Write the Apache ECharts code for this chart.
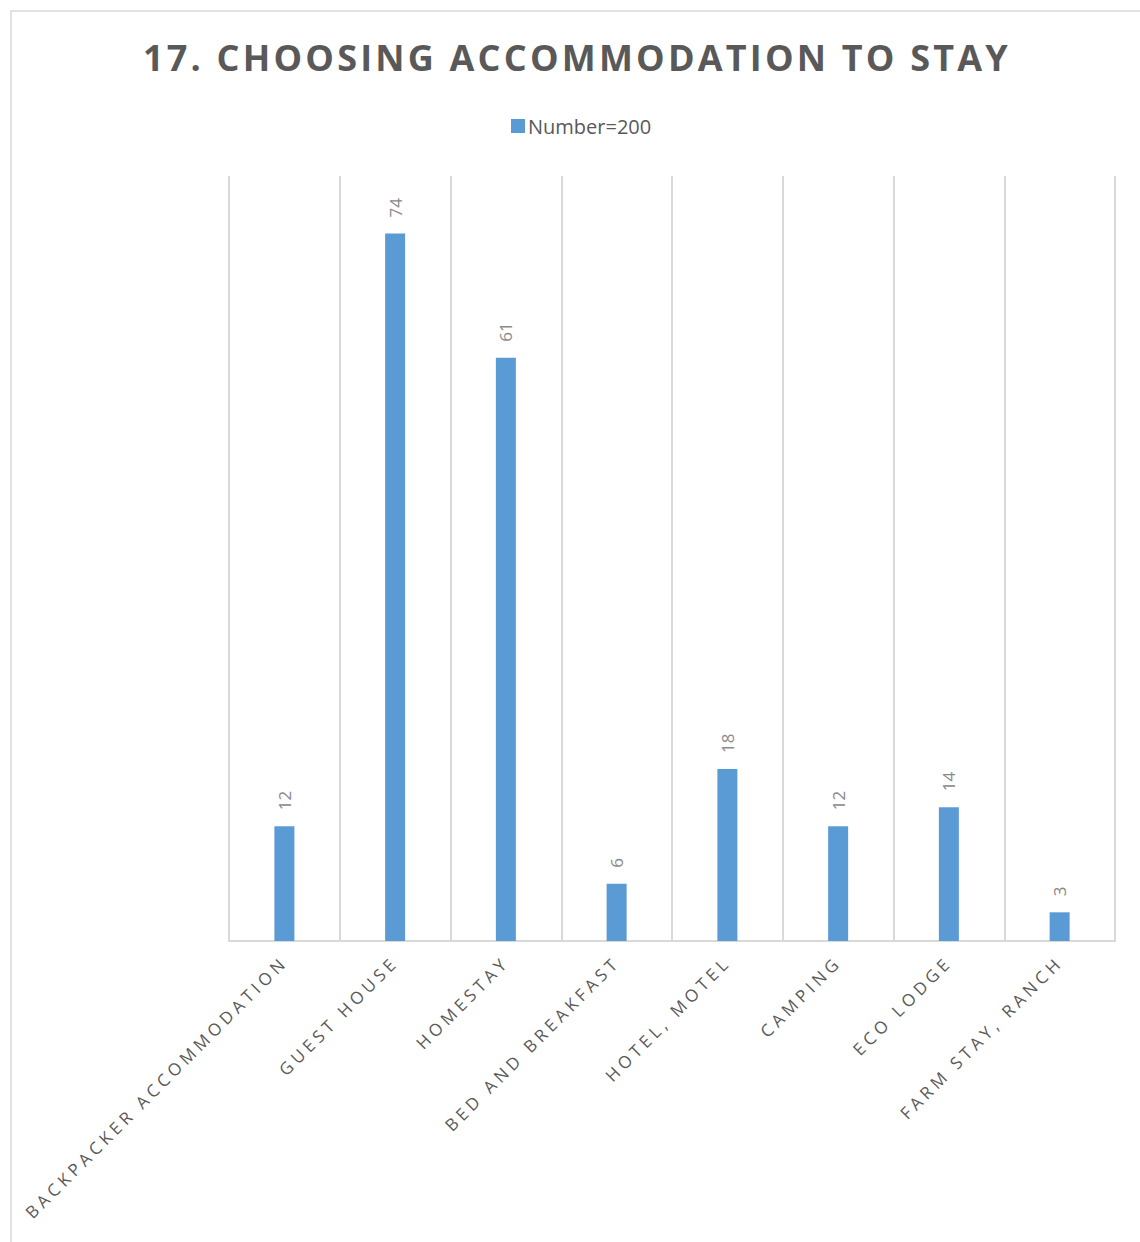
<!DOCTYPE html>
<html>
<head>
<meta charset="utf-8">
<script src="https://cdn.jsdelivr.net/npm/echarts@6/dist/echarts.min.js"></script>
<style>
html,body{margin:0;padding:0;background:#fff;}
#main{width:1140px;height:1242px;}
</style>
</head>
<body>
<div id="main"></div>
<script>
const TITLE = '17. CHOOSING ACCOMMODATION TO STAY';
const SERIES_NAME = 'Number=200';
const categories = ['BACKPACKER ACCOMMODATION','GUEST HOUSE','HOMESTAY','BED AND BREAKFAST','HOTEL, MOTEL','CAMPING','ECO LODGE','FARM STAY, RANCH'];
const values = [12, 74, 61, 6, 18, 12, 14, 3];

const chart = echarts.init(document.getElementById('main'), null, {renderer:'svg'});
const FONT = 'Open Sans';
chart.setOption({
  animation:false,
  backgroundColor:'#ffffff',
  title:{
    text:TITLE,
    left:572,
    textAlign:'center',
    top:34,
    textStyle:{fontFamily:FONT,fontWeight:'bold',fontSize:36,color:'#595959'}
  },
  legend:{
    left:506, top:111,
    itemWidth:14, itemHeight:14, itemGap:6,
    icon:'rect',
    textStyle:{fontFamily:FONT,fontSize:20,color:'#595959',padding:[0,0,0,-2]},
    data:[SERIES_NAME]
  },
  graphic:[{
    type:'rect', silent:true,
    shape:{x:11,y:11,width:1200,height:1300},
    style:{fill:'none',stroke:'#d9d9d9',lineWidth:1.5}
  }],
  grid:{left:229,right:25,top:176,bottom:301},
  xAxis:{
    type:'category',
    data:categories,
    boundaryGap:true,
    axisTick:{show:false},
    axisLine:{lineStyle:{color:'#d9d9d9',width:2}},
    splitLine:{show:true,lineStyle:{color:'#d9d9d9',width:2}},
    axisLabel:{rotate:45,interval:0,margin:18,fontFamily:FONT,fontSize:17,color:'#595959'}
  },
  yAxis:{type:'value',min:0,max:80,show:false,splitLine:{show:false}},
  series:[{
    name:SERIES_NAME,
    type:'bar',
    data:values,
    barWidth:20,
    itemStyle:{color:'#5B9BD5'},
    label:{show:true,position:'top',rotate:90,align:'left',verticalAlign:'middle',distance:16,
      fontFamily:FONT,fontSize:17,color:'#898989'}
  }]
});
function applySpacing(){
  document.querySelectorAll('#main svg text').forEach(t=>{
    const s=t.textContent;
    if(s===TITLE) t.setAttribute('letter-spacing','3.2');
    else if(categories.includes(s)) t.setAttribute('letter-spacing','4.2');
  });
}
chart.on('finished', applySpacing);
applySpacing();
setTimeout(applySpacing,0);
setTimeout(applySpacing,100);
</script>
</body>
</html>
